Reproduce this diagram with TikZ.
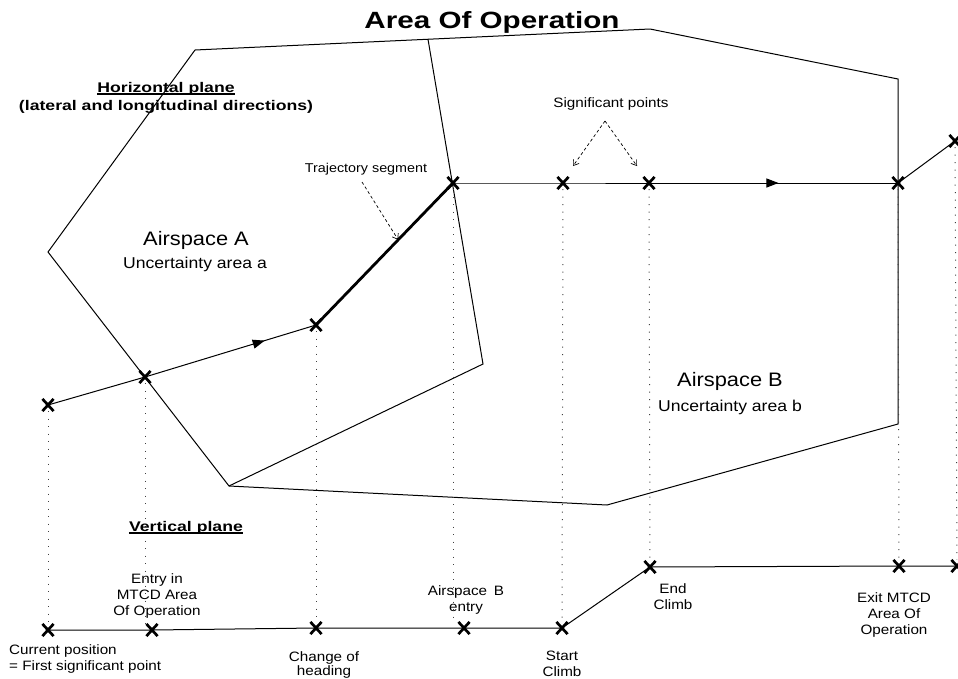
\documentclass[tikz,border=0pt]{standalone}
\usepackage{fontspec}
\setmainfont{Liberation Sans}[FakeStretch=1.12]
\newfontfamily\headfont{Liberation Sans}[FakeStretch=1.26]
\usetikzlibrary{arrows.meta,decorations.markings,shapes.misc,calc}

\tikzset{
  sigpt/.style={cross out, draw, line width=2.7pt, minimum width=8.5pt, minimum height=9.5pt, inner sep=0pt},
  border/.style={line width=1pt, line join=miter},
  track/.style={line width=1pt},
  heavy/.style={line width=2.8pt},
  dropline/.style={black!75, line width=1pt, dash pattern=on 1pt off 6.5pt},
  callout/.style={line width=0.7pt, dash pattern=on 3pt off 2.5pt, -{Straight Barb[length=5pt,width=7pt]}},
  flowarrow/.style={postaction={decorate, decoration={markings,
      mark=at position #1 with {\arrow{Triangle[length=12pt,width=9pt]}}}}},
  smalllbl/.style={font=\fontsize{13.6}{16}\selectfont, inner sep=0pt, align=center},
  arealbl/.style={font=\fontsize{19.5}{22}\selectfont, inner sep=0pt},
  uncertlbl/.style={font=\fontsize{15.7}{18}\selectfont, inner sep=0pt},
  headlbl/.style={font=\headfont\bfseries\fontsize{14}{16}\selectfont, inner sep=0pt},
  uline/.style={line width=1.2pt},
}

\begin{document}
\begin{tikzpicture}[x=1pt,y=-1pt]
\useasboundingbox (0,0) rectangle (958,678);

% title
\node[anchor=base, inner sep=0pt, font=\headfont\bfseries\fontsize{23.5}{26}\selectfont] (title) at (492,28) {Area Of Operation};

% outline of the area of operation
\coordinate (o1) at (195,50);
\coordinate (o2) at (650,29);
\coordinate (o3) at (898,79);
\coordinate (o4) at (898,424);
\coordinate (o5) at (607,505);
\coordinate (o6) at (229,486);
\coordinate (o7) at (48,252);
\coordinate (d1) at (483,364);
\coordinate (d2) at (428,39.3);
\draw[border] (o1) -- (o2) -- (o3) -- (o4) -- (o5) -- (o6) -- (o7) -- cycle;
\draw[border] (o6) -- (d1) -- (d2);

% significant points, horizontal plane
\node[sigpt] (h1) at (48,405) {};
\node[sigpt] (h2) at (145,377) {};
\node[sigpt] (h3) at (316,325) {};
\node[sigpt] (h4) at (453,183) {};
\node[sigpt] (h5) at (563,183) {};
\node[sigpt] (h6) at (649,183) {};
\node[sigpt] (h7) at (898,183) {};
\node[sigpt] (h8) at (955,141) {};

% significant points, vertical plane
\node[sigpt] (v1) at (48,630) {};
\node[sigpt] (v2) at (152,630) {};
\node[sigpt] (v3) at (316,628) {};
\node[sigpt] (v4) at (464,628) {};
\node[sigpt] (v5) at (562,628) {};
\node[sigpt] (v6) at (650,567) {};
\node[sigpt] (v7) at (899,566) {};
\node[sigpt] (v8) at (957,566) {};

% projections between the two planes
\draw[dropline] (h1) -- (v1);
\draw[dropline] (h2) -- (h2 |- v2.north);
\draw[dropline] (h3) -- (v3);
\draw[dropline] (h4) -- (h4 |- v4.north);
\draw[dropline] (h5) -- (v5);
\draw[dropline] (h6) -- (v6);
\draw[dropline] (h7) -- (v7);
\draw[dropline] (h8) -- (v8);

% lateral trajectory
\draw[track] (h1.center) -- (h2.center);
\draw[track, flowarrow=0.7] (h2.center) -- (h3.center);
\draw[heavy] (h3.center) -- (h4.center);
\draw[track] (h4.center) -- (h5.center) -- (h6.center);
\draw[track, flowarrow=0.52] (h6.center) -- (h7.center);
\draw[track] (h7.center) -- (h8.center);

% vertical profile
\draw[track] (v1.center) -- (v2.center) -- (v3.center) -- (v4.center) -- (v5.center)
  -- (v6.center) -- (v7.center) -- (v8.center);

% plane headings
\node[headlbl, anchor=base] (hp) at (166,92) {Horizontal plane};
\draw[uline] ([yshift=-2pt]hp.base west) -- ([yshift=-2pt]hp.base east);
\node[headlbl, anchor=base] (hd) at (166,110) {(lateral and longitudinal directions)};
\node[headlbl, anchor=base] (vp) at (186,531) {Vertical plane};
\draw[uline] ([yshift=-2pt]vp.base west) -- ([yshift=-2pt]vp.base east);

% airspace names
\node[arealbl, anchor=base] (nameA) at (196,245) {Airspace A};
\node[uncertlbl, anchor=base] (uncA) at (195,268) {Uncertainty area a};
\node[arealbl, anchor=base] (nameB) at (730,386) {Airspace B};
\node[uncertlbl, anchor=base] (uncB) at (730,411) {Uncertainty area b};

% callouts
\node[smalllbl, font=\fontsize{12.8}{15}\selectfont, anchor=base] (trj) at (366,172) {Trajectory segment};
\node[smalllbl, anchor=base] (sig) at (611,107) {Significant points};
\coordinate (sigfork) at (605,121);
\coordinate (sigtipA) at (573,166);
\coordinate (sigtipB) at (637,166);
\draw[callout] (sigfork) -- (sigtipA);
\draw[callout] (sigfork) -- (sigtipB);
\coordinate (trjtail) at (362,182);
\draw[callout] (trjtail) -- ($(h3.center)!0.6!(h4.center)$);

% point labels, vertical plane (anchored on the baseline of the last line)
\node[smalllbl, align=left, anchor=base west] (lcur) at (9,670) {Current position\\= First significant point};
\node[smalllbl, anchor=base] (lentry) at (157,615) {Entry in\\MTCD Area\\Of Operation};
\node[smalllbl, font=\fontsize{13.6}{12.5}\selectfont, anchor=base] (lhead) at (324,675) {Change of\\heading};
\node[smalllbl, anchor=base] (lbent) at (466,611) {Airspace\enspace B\\entry};
\node[smalllbl, anchor=base] (lstart) at (562,676) {Start\\Climb};
\node[smalllbl, anchor=base] (lend) at (673,609) {End\\Climb};
\node[smalllbl, anchor=base] (lexit) at (894,634) {Exit MTCD\\Area Of\\Operation};
\end{tikzpicture}
\end{document}
